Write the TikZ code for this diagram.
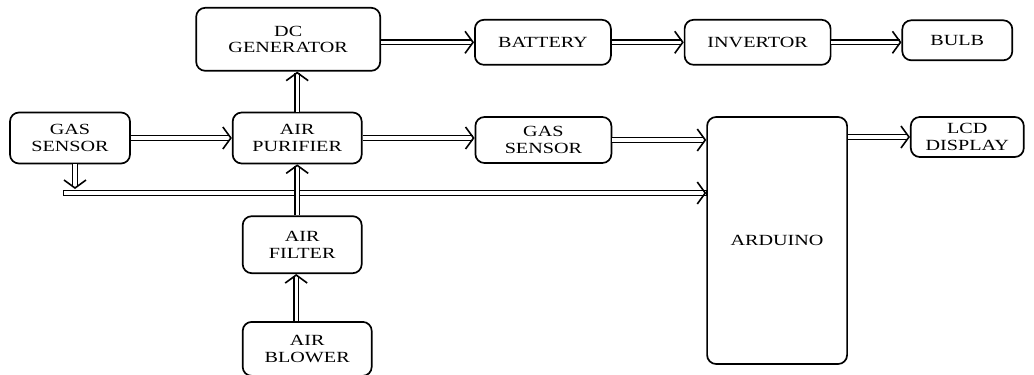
\documentclass[tikz,border=0pt]{standalone}
\usepackage{fontspec}
\setmainfont[FakeStretch=1.3]{Liberation Serif}
\usepackage{tikz}
\usetikzlibrary{arrows.meta,positioning,calc}

\begin{document}
\begin{tikzpicture}[
  blk/.style={draw, rounded corners=9pt, line width=1.7pt, align=center, inner sep=0pt, font=\fontsize{15.5}{16.5}\selectfont},
  flow/.style={double, double distance=3.2pt, line width=1.4pt, -{Straight Barb[length=8pt, width=22pt, line width=1.6pt]}}
]
\useasboundingbox (0,0) rectangle (1034pt,-375pt);
\node[blk, minimum width=120pt, minimum height=51pt] (gasin) at (70pt,-138pt) {GAS\\SENSOR};
\node[blk, minimum width=129pt, minimum height=51pt, right=101pt of gasin] (purifier) {AIR\\PURIFIER};
\node[blk, minimum width=184pt, minimum height=63pt, above=40pt of purifier, xshift=-9pt] (dcgen) {DC\\GENERATOR};
\node[blk, minimum width=136pt, minimum height=45pt, right=93pt of dcgen, yshift=-3pt] (battery) {BATTERY};
\node[blk, minimum width=146pt, minimum height=45pt, right=72pt of battery] (invertor) {INVERTOR};
\node[blk, minimum width=110pt, minimum height=40pt, right=70pt of invertor, yshift=2pt] (bulb) {BULB};
\node[blk, minimum width=136pt, minimum height=46pt, right=112pt of purifier, yshift=-2pt] (gasout) {GAS\\SENSOR};
\node[blk, minimum width=140pt, minimum height=247pt, right=94pt of gasout.north east, anchor=north west] (arduino) {ARDUINO};
\node[blk, minimum width=113pt, minimum height=40pt, right=62pt of arduino.north east, anchor=north west] (lcd) {LCD\\DISPLAY};
\node[blk, minimum width=119pt, minimum height=57pt, below=51pt of purifier, xshift=5pt] (filter) {AIR\\FILTER};
\node[blk, minimum width=129pt, minimum height=54pt, below=47pt of filter, xshift=5pt] (blower) {AIR\\BLOWER};
\coordinate (bus) at (66pt,-193pt);
\draw[flow] (gasin) -- (purifier);
\draw[flow] (purifier) -- (purifier -| gasout.west);
\draw[flow] (gasout) -- (gasout -| arduino.west);
\draw[flow] (lcd -| arduino.east) -- (lcd);
\draw[flow] (purifier) -- (purifier |- dcgen.south);
\draw[flow] (battery -| dcgen.east) -- (battery);
\draw[flow] (battery) -- (invertor);
\draw[flow] (invertor) -- (invertor -| bulb.west);
\draw[flow, shorten >=4pt] ([xshift=5pt]gasin.south) -- ([xshift=5pt]gasin.south |- bus);
\draw[flow, line cap=rect] (bus) -- (bus -| arduino.west);
\draw[flow] (filter.north -| purifier) -- (purifier);
\draw[flow] ([xshift=-1pt]blower.north -| purifier) -- ([xshift=-1pt]filter.south -| purifier);
\end{tikzpicture}
\end{document}
